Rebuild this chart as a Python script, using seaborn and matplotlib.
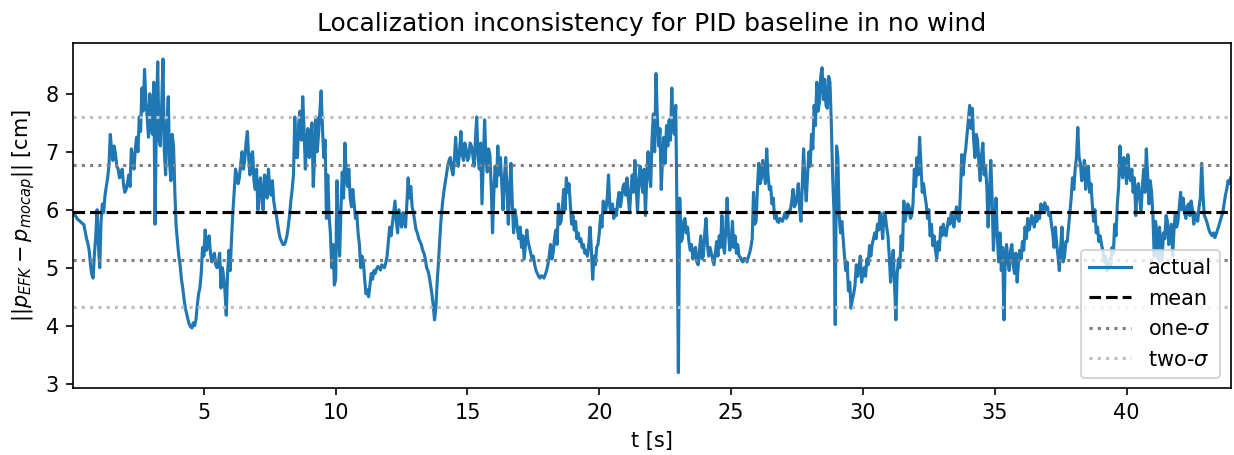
# Importing the libraries
import numpy as np
import seaborn as sns
import matplotlib
matplotlib.use('Agg')
import matplotlib.pyplot as plt

# Localization error [cm], one sample every 0.05 s
err_0_5 = [5.93, 5.91, 5.88, 5.84, 5.82, 5.80, 5.78, 5.76, 5.74, 5.62,
           5.50, 5.42, 5.30, 5.05, 4.88, 4.82, 5.25, 5.55, 6.00, 5.40,
           5.00, 5.80, 6.10, 5.95, 6.25, 6.40, 6.55, 6.75, 7.30, 7.05,
           6.85, 7.10, 6.95, 6.75, 6.70, 6.55, 6.60, 6.70, 6.45, 6.30,
           6.35, 6.45, 6.60, 6.40, 7.05, 6.85, 6.70, 7.05, 7.25, 7.00,
           7.60, 7.35, 8.10, 7.70, 8.42, 7.90, 7.60, 7.25, 8.00, 7.40,
           7.30, 8.20, 5.75, 7.60, 8.55, 7.20, 7.10, 7.80, 8.60, 7.00,
           6.60, 7.45, 7.95, 6.80, 6.50, 7.30, 7.10, 6.30, 5.70, 5.45,
           5.20, 5.05, 4.80, 4.65, 4.45, 4.30, 4.20, 4.10, 4.02, 3.98,
           3.96, 4.05, 4.00, 4.10, 4.35, 4.55, 4.65, 4.90, 5.35, 5.20,
           5.65, 5.30, 5.40, 5.55, 5.25, 5.10, 5.20, 5.25, 5.05, 5.00]
err_5_11 = [5.10, 5.25, 4.65, 5.00, 4.85, 4.60, 4.18, 4.90, 5.30, 4.95,
            5.50, 5.95, 6.30, 6.70, 6.60, 6.45, 6.55, 6.80, 7.00, 6.70,
            6.85, 7.15, 7.35, 6.90, 6.60, 6.95, 7.00, 6.50, 6.35, 6.70,
            6.00, 6.45, 6.55, 6.15, 6.00, 6.60, 6.55, 6.20, 6.70, 6.40,
            6.25, 6.50, 6.15, 6.00, 5.90, 5.75, 5.60, 5.50, 5.45, 5.40,
            5.40, 5.45, 5.55, 5.70, 5.90, 6.15, 6.35, 6.60, 7.60, 6.90,
            6.90, 7.50, 7.70, 7.20, 7.95, 7.40, 6.70, 7.20, 7.40, 6.90,
            7.15, 7.50, 6.40, 6.90, 7.60, 7.00, 7.30, 7.70, 8.05, 7.40,
            6.90, 7.20, 5.85, 6.60, 5.90, 5.60, 5.00, 5.40, 4.70, 4.80,
            6.50, 5.60, 5.20, 6.00, 6.65, 6.20, 7.15, 6.60, 6.40, 6.70,
            6.20, 6.05, 6.35, 6.10, 5.85, 5.95, 5.60, 5.40, 5.00, 5.20]
err_11_16 = [5.10, 4.80, 4.55, 4.62, 4.50, 4.70, 4.90, 4.80, 4.95, 4.90,
             4.98, 5.02, 5.00, 4.96, 5.05, 5.02, 5.00, 5.08, 5.20, 5.45,
             5.70, 5.55, 5.75, 5.95, 6.15, 5.80, 5.60, 6.00, 5.85, 5.70,
             5.95, 5.80, 5.70, 6.10, 6.55, 6.20, 6.40, 6.05, 5.95, 5.80,
             5.65, 5.60, 5.50, 5.45, 5.40, 5.30, 5.25, 5.15, 5.00, 4.95,
             4.85, 4.70, 4.55, 4.35, 4.10, 4.30, 4.75, 5.10, 5.50, 5.85,
             6.10, 6.30, 6.45, 6.60, 6.75, 6.85, 6.90, 6.70, 6.60, 6.85,
             7.25, 6.90, 6.75, 7.00, 7.35, 6.95, 6.85, 7.15, 7.05, 6.85,
             6.90, 7.15, 7.10, 6.95, 6.75, 7.20, 7.60, 6.90, 6.70, 7.15,
             6.10, 6.80, 7.55, 6.90, 6.65, 7.05, 6.95, 6.40, 5.60, 6.30,
             6.75, 6.40, 7.10, 6.60, 6.90, 6.45, 6.00, 6.55, 6.90, 6.30]
err_16_22 = [5.75, 6.40, 6.80, 6.10, 5.60, 6.00, 5.85, 5.65, 5.50, 5.70,
             5.35, 5.55, 5.15, 5.40, 5.65, 5.45, 5.35, 5.25, 5.15, 5.20,
             5.05, 4.95, 4.90, 4.85, 4.82, 4.86, 4.85, 4.82, 4.88, 4.95,
             5.05, 5.20, 5.40, 5.15, 5.25, 5.50, 5.65, 5.40, 6.10, 5.75,
             5.80, 6.05, 6.35, 6.00, 6.55, 6.30, 6.45, 6.10, 5.75, 5.90,
             5.65, 5.80, 5.50, 5.60, 5.45, 5.50, 5.35, 5.40, 5.25, 5.30,
             5.20, 5.40, 5.70, 5.30, 4.80, 5.20, 5.05, 5.35, 5.40, 5.60,
             5.90, 5.70, 6.15, 5.95, 6.00, 6.20, 6.60, 6.05, 5.95, 6.10,
             5.85, 6.00, 5.90, 6.15, 6.30, 6.05, 6.20, 6.40, 6.45, 6.25,
             6.55, 6.20, 5.95, 6.35, 6.60, 6.30, 6.85, 6.40, 5.95, 6.50,
             6.75, 6.45, 6.30, 6.70, 5.90, 6.55, 7.00, 6.60, 6.40, 7.20,
             7.65, 7.00]
err_22_27 = [8.35, 7.60, 7.10, 7.40, 6.35, 6.90, 7.25, 6.80, 7.45, 7.10,
             7.55, 7.20, 8.10, 7.40, 7.30, 7.80, 5.80, 3.19, 6.20, 5.45,
             5.50, 5.80, 5.85, 5.60, 5.70, 5.45, 5.30, 5.40, 5.15, 5.30,
             5.35, 5.10, 5.05, 5.30, 5.55, 5.15, 5.20, 5.60, 5.85, 5.40,
             5.20, 5.35, 5.25, 5.15, 5.05, 5.25, 5.45, 5.20, 5.55, 5.35,
             5.90, 5.40, 5.25, 5.70, 6.20, 5.60, 5.30, 5.45, 5.80, 5.35,
             5.55, 5.25, 5.40, 5.20, 5.18, 5.12, 5.10, 5.16, 5.15, 5.10,
             5.18, 5.25, 5.35, 5.50, 6.30, 5.75, 5.80, 6.40, 6.80, 6.45,
             6.55, 6.85, 6.65, 6.45, 7.05, 6.60, 6.35, 6.40, 6.10, 6.20,
             5.85, 5.95, 5.80, 5.78, 5.85, 5.82, 5.80, 5.88, 5.95, 5.85,
             5.90, 5.98, 6.00, 6.15, 6.35, 6.05, 6.10, 6.25, 6.45, 6.00]
err_27_33 = [5.80, 6.40, 7.05, 6.50, 6.15, 6.60, 7.00, 6.75, 7.30, 7.05,
             7.80, 7.45, 8.20, 7.70, 7.85, 8.30, 8.45, 7.90, 8.25, 7.80,
             7.75, 8.30, 8.20, 7.50, 6.60, 6.00, 4.02, 7.10, 6.90, 5.90,
             5.60, 5.80, 5.50, 5.20, 4.95, 5.10, 4.60, 4.75, 4.30, 4.45,
             4.55, 4.70, 5.05, 4.85, 5.00, 5.20, 4.75, 4.90, 5.00, 4.85,
             5.15, 5.05, 5.38, 5.20, 5.40, 5.50, 5.60, 5.50, 5.75, 5.65,
             5.95, 5.80, 5.50, 5.95, 5.90, 5.70, 5.55, 5.20, 4.75, 5.10,
             5.30, 4.70, 4.10, 4.90, 5.15, 5.00, 5.55, 5.30, 6.15, 5.80,
             5.95, 6.10, 6.05, 5.85, 5.90, 6.10, 6.70, 6.40, 6.90, 6.60,
             7.25, 6.80, 6.30, 6.45, 6.25, 6.10, 5.85, 6.00, 5.55, 5.75,
             5.38, 5.55, 5.30, 5.15, 5.45, 5.30, 5.70, 5.55, 5.75, 5.60]
err_33_38 = [5.55, 5.70, 5.85, 5.75, 5.95, 5.85, 5.70, 5.90, 6.05, 5.85,
             5.80, 6.30, 6.95, 6.60, 6.90, 7.05, 7.30, 7.55, 7.80, 7.40,
             7.75, 7.20, 6.90, 7.30, 7.20, 6.80, 6.50, 6.95, 7.15, 6.60,
             6.75, 6.40, 5.70, 6.30, 6.85, 6.20, 5.30, 5.80, 6.20, 5.50,
             5.10, 5.60, 4.95, 5.35, 4.10, 5.20, 5.40, 5.10, 4.95, 5.30,
             5.40, 5.05, 4.90, 5.25, 4.75, 5.10, 5.30, 5.15, 5.45, 5.30,
             5.70, 5.50, 5.85, 5.65, 5.75, 5.90, 5.80, 5.70, 5.90, 5.80,
             5.95, 5.85, 6.10, 5.95, 6.05, 6.12, 6.00, 6.05, 5.90, 5.95,
             5.75, 5.60, 5.35, 5.70, 5.40, 5.20, 4.95, 5.35, 5.70, 5.10,
             5.20, 5.45, 5.45, 5.70, 5.95, 6.20, 6.55, 6.35, 6.70, 6.90,
             7.42, 6.90, 6.80, 6.50, 6.60, 6.85, 6.35, 6.60, 6.75, 6.30]
err_38_44 = [6.45, 6.10, 5.80, 6.00, 5.60, 5.70, 5.45, 5.55, 5.40, 5.30,
             5.10, 5.20, 4.95, 5.00, 5.15, 5.05, 5.35, 5.25, 5.75, 5.55,
             6.10, 6.40, 7.10, 6.70, 6.55, 6.90, 6.75, 6.45, 6.95, 6.60,
             6.50, 6.70, 6.30, 6.55, 5.90, 6.35, 6.45, 6.20, 5.95, 6.40,
             6.70, 6.30, 7.05, 6.60, 6.10, 6.50, 6.30, 5.90, 5.20, 5.80,
             5.60, 5.15, 5.70, 5.40, 5.15, 5.60, 5.50, 5.90, 5.80, 5.40,
             5.60, 5.75, 5.20, 5.65, 5.95, 5.70, 5.80, 6.05, 6.30, 6.00,
             6.20, 5.95, 5.85, 6.05, 6.10, 5.90, 6.15, 6.00, 5.75, 5.95,
             5.85, 5.80, 6.05, 6.20, 6.80, 6.25, 5.90, 5.85, 5.78, 5.70,
             5.62, 5.58, 5.55, 5.60, 5.52, 5.58, 5.65, 5.72, 5.80, 5.88,
             5.95, 6.10, 6.25, 6.35, 6.50, 6.45, 6.55]

# Statistics shown as horizontal reference lines
mean_err = 5.955
sigma_err = 0.82

t_start = 0.05
dt = 0.05


def build_series():
    # Glue the pieces together and make the time axis from the sample index
    err = np.array(err_0_5 + err_5_11 + err_11_16 + err_16_22 +
                   err_22_27 + err_27_33 + err_33_38 + err_38_44)
    t = t_start + dt * np.arange(len(err))
    return t, err


def plot_inconsistency(t, err):
    fig = plt.figure(figsize=(1235 / 150, 455 / 150), dpi=150)
    ax = fig.add_axes([0.0594, 0.1466, 0.9371, 0.7582])

    # Actual error
    sns.lineplot(x=t, y=err, ax=ax, color='tab:blue', linewidth=1.5,
                 estimator=None, label='actual')

    # Mean and sigma bands
    ax.axhline(mean_err, color='black', linestyle='--', linewidth=1.5,
               label='mean')
    ax.axhline(mean_err + sigma_err, color='gray', linestyle=':',
               linewidth=1.5, label=r'one-$\sigma$')
    ax.axhline(mean_err - sigma_err, color='gray', linestyle=':',
               linewidth=1.5)
    ax.axhline(mean_err + 2 * sigma_err, color='silver', linestyle=':',
               linewidth=1.5, label=r'two-$\sigma$')
    ax.axhline(mean_err - 2 * sigma_err, color='silver', linestyle=':',
               linewidth=1.5)

    ax.set_xlim(t[0], t[-1])
    ax.set_title('Localization inconsistency for PID baseline in no wind')
    ax.set_xlabel('t [s]')
    ax.set_ylabel(r'$||p_{EFK} - p_{mocap}||$ [cm]')
    ax.legend(loc='lower right')

    fig.savefig('out.png', dpi=150)


if __name__ == '__main__':
    t, err = build_series()
    plot_inconsistency(t, err)
